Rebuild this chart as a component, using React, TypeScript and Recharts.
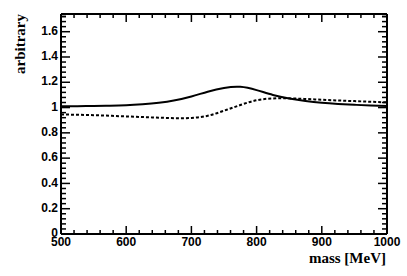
import { LineChart, Line, XAxis, YAxis } from "recharts";

// mass points [MeV]
const masses = [500, 525, 550, 575, 600, 625, 650, 675, 700, 725, 750, 775, 800, 825, 850, 875, 900, 925, 950, 975, 1000];
// solid curve
const solidVals = [1.01, 1.011, 1.012, 1.014, 1.018, 1.026, 1.038, 1.058, 1.088, 1.125, 1.155, 1.164, 1.138, 1.1, 1.072, 1.052, 1.038, 1.029, 1.022, 1.016, 1.012];
// dotted curve
const dottedVals = [0.946, 0.943, 0.94, 0.935, 0.93, 0.925, 0.92, 0.916, 0.918, 0.935, 0.975, 1.02, 1.058, 1.072, 1.073, 1.068, 1.062, 1.056, 1.051, 1.046, 1.041];

const xMajor = [500, 600, 700, 800, 900, 1000];
const yMajor = [0, 0.2, 0.4, 0.6, 0.8, 1, 1.2, 1.4, 1.6];

// minor ticks: 5 divisions per major step
const xTicks = xMajor.flatMap((m, i) => (i < xMajor.length - 1 ? [0, 1, 2, 3, 4].map((k) => m + k * 20) : [m]));
const yTicks = [...yMajor.flatMap((m) => [0, 1, 2, 3, 4].map((k) => +(m + k * 0.04).toFixed(2))), 1.72].filter((v) => v <= 1.74);

const data = masses.map((m, i) => ({ mass: m, solid: solidVals[i], dotted: dottedVals[i] }));

const labelFont = { fontFamily: "'Liberation Sans', Arial, sans-serif", fontWeight: 700, fontSize: 12 };
const titleFont = { fontFamily: "'Liberation Serif', 'Times New Roman', serif", fontWeight: 700, fontSize: 15 };

const isXMajor = (v: number) => Math.round(v) % 100 === 0;
const isYMajor = (v: number) => Math.abs(v * 5 - Math.round(v * 5)) < 1e-6;

const BottomTick = (props: any) => {
  const { x, y, payload } = props;
  const major = isXMajor(payload.value);
  return (
    <g>
      <line x1={x} y1={y} x2={x} y2={y - (major ? 8 : 4)} stroke="#000" strokeWidth={1.5} />
      {major && (
        <text x={x} y={y + 12} textAnchor="middle" fill="#000" style={labelFont}>
          {payload.value}
        </text>
      )}
    </g>
  );
};

const TopTick = (props: any) => {
  const { x, y, payload } = props;
  const major = isXMajor(payload.value);
  return <line x1={x} y1={y} x2={x} y2={y + (major ? 8 : 4)} stroke="#000" strokeWidth={1.5} />;
};

const LeftTick = (props: any) => {
  const { x, y, payload } = props;
  const major = isYMajor(payload.value);
  return (
    <g>
      <line x1={x} y1={y} x2={x + (major ? 9 : 5)} y2={y} stroke="#000" strokeWidth={1.5} />
      {major && (
        <text x={x - 3} y={y - 1} dy="0.35em" textAnchor="end" fill="#000" style={labelFont}>
          {String(+payload.value.toFixed(1))}
        </text>
      )}
    </g>
  );
};

const RightTick = (props: any) => {
  const { x, y, payload } = props;
  const major = isYMajor(payload.value);
  return <line x1={x} y1={y} x2={x - (major ? 9 : 5)} y2={y} stroke="#000" strokeWidth={1.5} />;
};

const XTitle = (props: any) => {
  const { viewBox } = props;
  return (
    <text x={viewBox.x + viewBox.width - 1} y={viewBox.y + 29} textAnchor="end" fill="#000" style={titleFont}>
      mass [MeV]
    </text>
  );
};

const YTitle = (props: any) => {
  const { viewBox } = props;
  const tx = 24.5;
  const ty = viewBox.y;
  return (
    <text x={tx} y={ty} textAnchor="end" fill="#000" transform={`rotate(-90, ${tx}, ${ty})`} style={titleFont}>
      arbitrary
    </text>
  );
};

const axisLine = { stroke: "#000", strokeWidth: 2 };

export default function App() {
  return (
    <div style={{ position: "absolute", left: 0, top: 0, background: "#fff" }}>
      <LineChart width={407} height={276} data={data} margin={{ top: 13, right: 19, bottom: 12, left: 0 }}>
        <XAxis
          dataKey="mass"
          type="number"
          domain={[500, 1000]}
          ticks={xTicks}
          interval={0}
          tickSize={0}
          tickMargin={0}
          tickLine={false}
          axisLine={axisLine}
          tick={<BottomTick />}
          height={30}
          label={<XTitle />}
        />
        <XAxis
          xAxisId="top"
          orientation="top"
          dataKey="mass"
          type="number"
          domain={[500, 1000]}
          ticks={xTicks}
          interval={0}
          tickSize={0}
          tickMargin={0}
          tickLine={false}
          axisLine={axisLine}
          tick={<TopTick />}
          height={1}
        />
        <YAxis
          type="number"
          domain={[0, 1.74]}
          ticks={yTicks}
          interval={0}
          tickSize={0}
          tickMargin={0}
          tickLine={false}
          axisLine={axisLine}
          tick={<LeftTick />}
          width={61}
          allowDataOverflow
          label={<YTitle />}
        />
        <YAxis
          yAxisId="right"
          orientation="right"
          type="number"
          domain={[0, 1.74]}
          ticks={yTicks}
          interval={0}
          tickSize={0}
          tickMargin={0}
          tickLine={false}
          axisLine={axisLine}
          tick={<RightTick />}
          width={1}
          allowDataOverflow
        />
        <Line type="natural" dataKey="solid" stroke="#000" strokeWidth={2} dot={false} isAnimationActive={false} />
        <Line
          type="natural"
          dataKey="dotted"
          stroke="#000"
          strokeWidth={2}
          strokeDasharray="3 2"
          dot={false}
          isAnimationActive={false}
        />
      </LineChart>
    </div>
  );
}
